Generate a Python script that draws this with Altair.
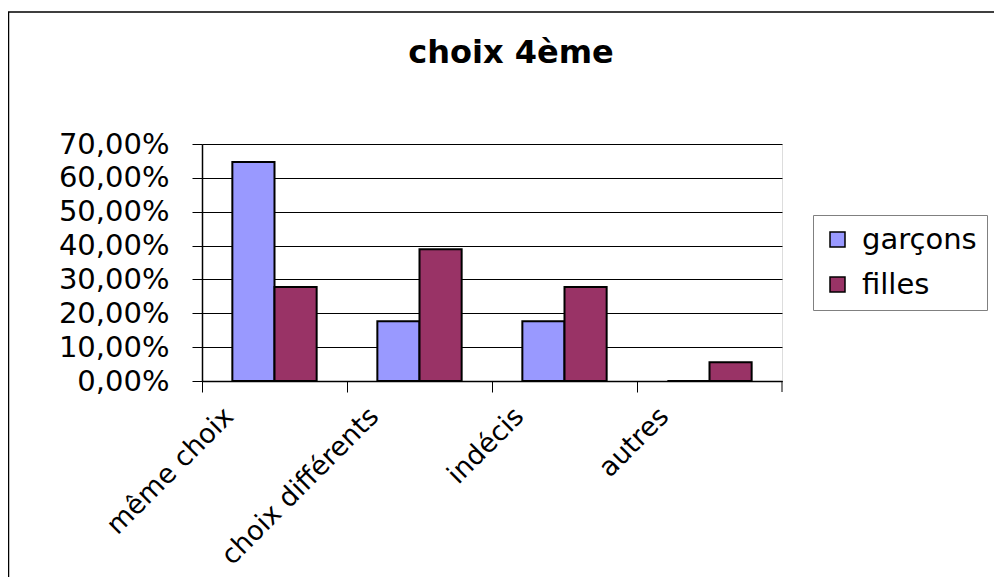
import altair as alt
import pandas as pd

categories = ["même choix", "choix différents", "indécis", "autres"]
series = ["garçons", "filles"]
garcons = [0.6471, 0.1765, 0.1765, 0.0]
filles = [0.2778, 0.3889, 0.2778, 0.0556]
y_ticks = [0, 0.1, 0.2, 0.3, 0.4, 0.5, 0.6, 0.7]
colors = ["#9999FF", "#993366"]
title_text = "choix 4ème"

rows = []
for c, g, f in zip(categories, garcons, filles):
    rows.append({"categorie": c, "serie": series[0], "valeur": g})
    rows.append({"categorie": c, "serie": series[1], "valeur": f})
df = pd.DataFrame(rows)
one = pd.DataFrame({"k": [0]})

FONT = "DejaVu Sans"

bars = alt.Chart(df).mark_bar(stroke="black", strokeWidth=2).encode(
    x=alt.X(
        "categorie:N", sort=categories,
        scale=alt.Scale(paddingInner=0, paddingOuter=0),
        axis=alt.Axis(title=None, bandPosition=0, labelAngle=315, labelAlign="right",
                      labelBaseline="middle", labelOffset=-45, tickSize=11, labelPadding=20,
                      domainColor="black", tickColor="black", labelFont=FONT, labelFontSize=27,
                      labelColor="black", grid=False, domainWidth=1.5, tickWidth=1,
                      labelOverlap=False, labelLimit=500),
    ),
    xOffset=alt.XOffset("serie:N", sort=series,
                        scale=alt.Scale(paddingInner=0, paddingOuter=0.72)),
    y=alt.Y(
        "valeur:Q", scale=alt.Scale(domain=[0, 0.7], nice=False),
        axis=alt.Axis(title=None, values=y_ticks,
                      labelExpr="replace(format(datum.value, '.2%'), '.', ',')",
                      tickSize=10, tickColor="black", domainColor="black", domainWidth=1.5,
                      labelPadding=23, labelFont=FONT, labelFontSize=29, labelColor="black",
                      grid=True, gridColor="#000000", gridWidth=1, labelOverlap=False),
    ),
    color=alt.Color(
        "serie:N", sort=series, scale=alt.Scale(domain=series, range=colors),
        legend=alt.Legend(title=None, orient="none", legendX=611, legendY=71,
                          symbolType="square", symbolSize=225, symbolStrokeColor="black",
                          symbolStrokeWidth=1.5, labelFont=FONT, labelFontSize=29,
                          labelColor="black", labelOffset=10, rowPadding=15, padding=10,
                          strokeColor="#808080", fillColor="white", cornerRadius=0),
    ),
)

border = alt.Chart(one).mark_rect(fillOpacity=0, stroke="black", strokeWidth=1.5).encode(
    x=alt.value(-193.5), x2=alt.value(900), y=alt.value(-132), y2=alt.value(500)
)

last_tick = alt.Chart(one).mark_rule(color="black", strokeWidth=1).encode(
    x=alt.value(580), y=alt.value(237), y2=alt.value(248)
)

title = alt.Chart(one).mark_text(
    font=FONT, fontSize=32, fontWeight="bold", color="black",
    align="center", baseline="alphabetic"
).encode(x=alt.value(309), y=alt.value(-81), text=alt.value(title_text))

chart = alt.layer(border, bars, last_tick, title).properties(
    width=580, height=237,
    autosize=alt.AutoSizeParams(type="none"),
    padding={"left": 194, "top": 136, "right": 212, "bottom": 196},
).configure_view(
    fill="#C0C0C0", stroke="#808080", strokeWidth=2
).configure(background="white")

chart.save("out.html", embed_options={"renderer": "svg", "actions": False})
